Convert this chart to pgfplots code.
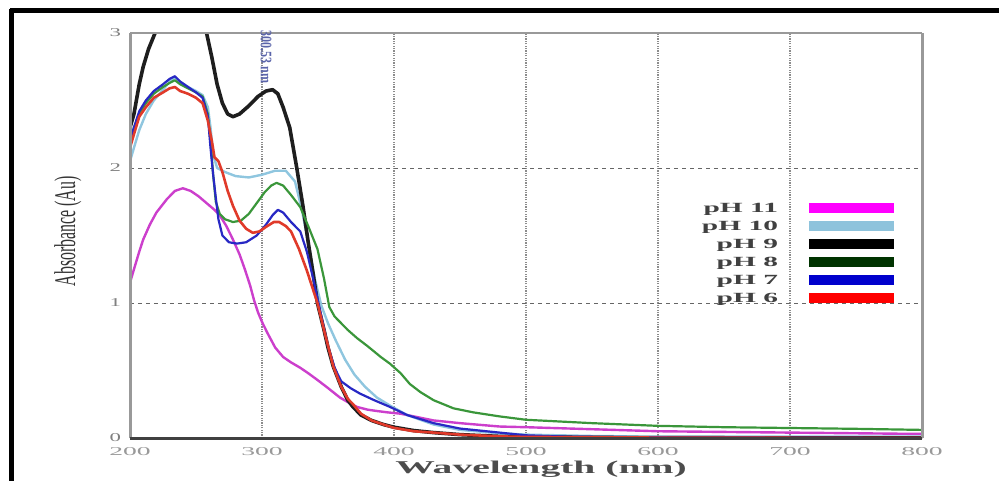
\documentclass[border=0pt]{standalone}
\usepackage{fontspec}
\setmainfont{Liberation Serif}
\usepackage{graphicx}
\usepackage{pgfplots}
\pgfplotsset{compat=1.18}

\definecolor{cMag}{HTML}{CC3FCC}
\definecolor{cLb}{HTML}{8FC6DF}
\definecolor{cBk}{HTML}{1E1E1E}
\definecolor{cGr}{HTML}{3A963A}
\definecolor{cBl}{HTML}{2828C4}
\definecolor{cRd}{HTML}{E03A2A}
\definecolor{lMag}{HTML}{FF00FF}
\definecolor{lLb}{HTML}{8EC3DC}
\definecolor{lBk}{HTML}{000000}
\definecolor{lGr}{HTML}{003300}
\definecolor{lBl}{HTML}{0000CC}
\definecolor{lRd}{HTML}{FF0000}
\definecolor{annot}{RGB}{90,100,170}

\pgfplotsset{
  lbar/.style={legend image code/.code={\draw[line width=5pt,#1] (0pt,0pt) -- (42.5pt,0pt);}},
}

\begin{document}
\begin{tikzpicture}
\begin{axis}[
  name=ax, at={(0,0)}, anchor=south west,
  scale only axis, width=396pt, height=202.5pt,
  xmin=200, xmax=800, ymin=0, ymax=3,
  xtick={200,300,...,800}, ytick={0,1,2,3},
  major tick length=0pt,
  axis line style={draw=none},
  /pgf/number format/assume math mode=true,
  xticklabel={\scalebox{2.3}[1]{\pgfmathprintnumber{\tick}}},
  yticklabel={\scalebox{1.9}[1]{\pgfmathprintnumber{\tick}}},
  xticklabel style={font=\fontsize{6}{7}\selectfont, text=black!40, inner sep=1pt, yshift=-3.5pt},
  yticklabel style={font=\fontsize{6}{7}\selectfont, text=black!50, xshift=-1pt},
  xmajorgrids, ymajorgrids,
  x grid style={black!45, line width=1.2pt, dash pattern=on 0.6pt off 0.6pt},
  y grid style={black!60, line width=0.5pt, dash pattern=on 2pt off 2pt},
  xlabel={\scalebox{2.2}[1]{Wavelength (nm)}},
  xlabel style={at={(axis description cs:0.519,-0.0765)}, anchor=center, inner sep=0pt,
    font=\fontsize{9}{10}\selectfont\bfseries, text=black!70},
  ylabel={\scalebox{0.53}[1]{Absorbance (Au)}},
  ylabel style={at={(axis description cs:-0.0783,0.51)}, anchor=center,
    font=\fontsize{15}{15}\selectfont, text=black!80},
  legend plot pos=right,
  legend cell align=right,
  legend style={draw=none, fill=none, at={(rel axis cs:0.979,0.598)}, anchor=north east,
    font=\fontsize{7}{8}\selectfont\bfseries, text=black!75,
    nodes={inner sep=0pt, text height=6pt, text depth=1.5pt},
    row sep=1.5pt, column sep=13pt},
  line join=round,
]
% pH 11
\addplot[cMag, line width=1.2pt, lbar=lMag] coordinates {
 (200,1.15) (203,1.25) (207,1.38) (210,1.47) (215,1.58) (220,1.67) (228,1.77)
 (234,1.83) (240,1.85) (246,1.83) (252,1.79) (258,1.74) (264,1.69) (268,1.65)
 (273,1.57) (278,1.47) (283,1.36) (287,1.25) (291,1.13) (294,1.02) (297,0.93)
 (300,0.86) (304,0.78) (310,0.67) (316,0.60) (322,0.56) (329,0.52) (335,0.48)
 (342,0.43) (350,0.37) (359,0.30) (366,0.26) (372,0.23) (380,0.21) (387,0.20)
 (395,0.19) (405,0.18) (420,0.15) (430,0.13) (450,0.11) (480,0.085) (500,0.08)
 (550,0.065) (600,0.05) (650,0.045) (700,0.04) (750,0.035) (800,0.03)
};
\addlegendentry{\scalebox{2.1}[1]{pH 11}}
% pH 10
\addplot[cLb, line width=1.2pt, lbar=lLb] coordinates {
 (200,2.05) (203,2.15) (207,2.28) (212,2.40) (218,2.50) (225,2.58) (230,2.64)
 (234,2.67) (238,2.64) (244,2.60) (250,2.57) (255,2.54) (259,2.45) (261,2.30)
 (263,2.10) (266,2.00) (272,1.97) (280,1.94) (290,1.93) (300,1.95) (310,1.98)
 (318,1.98) (325,1.90) (330,1.70) (335,1.45) (340,1.18) (345,0.98) (350,0.85)
 (356,0.72) (363,0.58) (370,0.47) (378,0.38) (387,0.30) (397,0.24) (410,0.17)
 (430,0.10) (450,0.06) (480,0.035) (500,0.025) (550,0.015) (600,0.01) (800,0.01)
};
\addlegendentry{\scalebox{2.1}[1]{pH 10}}
% pH 9
\addplot[cBk, line width=1.8pt, lbar=lBk] coordinates {
 (200,2.30) (203,2.40) (207,2.62) (210,2.75) (214,2.88) (219,3.00) (225,3.15)
 (232,3.25) (240,3.28) (248,3.22) (254,3.10) (258,3.00) (262,2.82) (266,2.62)
 (270,2.48) (274,2.40) (278,2.38) (283,2.40) (290,2.46) (297,2.53) (303,2.57)
 (308,2.58) (312,2.55) (316,2.45) (321,2.30) (326,2.02) (331,1.72) (335,1.45)
 (339,1.20) (342,1.00) (347,0.80) (350,0.67) (354,0.53) (360,0.38) (365,0.28)
 (369,0.23) (375,0.17) (383,0.13) (392,0.10) (400,0.08) (415,0.055) (430,0.04)
 (450,0.025) (480,0.012) (500,0.008) (550,0.004) (600,0.002) (800,0.0)
};
\addlegendentry{\scalebox{2.1}[1]{pH 9}}
% pH 8
\addplot[cGr, line width=1.1pt, lbar=lGr] coordinates {
 (200,2.20) (203,2.30) (207,2.40) (212,2.48) (218,2.55) (225,2.60) (230,2.63)
 (234,2.65) (238,2.62) (244,2.59) (250,2.56) (255,2.53) (259,2.40) (261,2.20)
 (263,1.95) (265,1.75) (268,1.66) (272,1.62) (278,1.60) (284,1.61) (290,1.66)
 (296,1.74) (302,1.82) (307,1.87) (311,1.89) (316,1.87) (322,1.80) (329,1.71)
 (335,1.57) (342,1.40) (347,1.18) (351,0.97) (355,0.90) (359,0.86) (365,0.80)
 (372,0.74) (380,0.68) (390,0.60) (397,0.55) (405,0.48) (412,0.40) (420,0.34)
 (430,0.28) (445,0.22) (460,0.19) (480,0.16) (500,0.135) (550,0.11) (600,0.09)
 (650,0.08) (700,0.074) (750,0.068) (800,0.06)
};
\addlegendentry{\scalebox{2.1}[1]{pH 8}}
% pH 7
\addplot[cBl, line width=1.1pt, lbar=lBl] coordinates {
 (200,2.20) (203,2.30) (207,2.42) (212,2.50) (218,2.57) (225,2.62) (230,2.66)
 (234,2.68) (238,2.64) (244,2.60) (250,2.56) (255,2.52) (259,2.38) (261,2.15)
 (263,1.95) (265,1.78) (267,1.62) (270,1.50) (275,1.45) (281,1.44) (288,1.45)
 (296,1.50) (303,1.58) (308,1.65) (312,1.69) (316,1.67) (322,1.60) (329,1.53)
 (334,1.38) (339,1.17) (345,0.90) (350,0.68) (355,0.52) (360,0.42) (367,0.37)
 (374,0.33) (385,0.28) (397,0.23) (410,0.17) (430,0.11) (450,0.07) (480,0.04)
 (500,0.02) (530,0.01) (600,0.005) (800,0.0)
};
\addlegendentry{\scalebox{2.1}[1]{pH 7}}
% pH 6
\addplot[cRd, line width=1.3pt, lbar=lRd] coordinates {
 (200,2.15) (203,2.25) (207,2.38) (212,2.45) (218,2.52) (225,2.56) (230,2.59)
 (234,2.60) (238,2.57) (244,2.55) (250,2.52) (255,2.48) (259,2.35) (262,2.20)
 (264,2.08) (267,2.05) (270,1.97) (274,1.83) (278,1.72) (283,1.61) (288,1.55)
 (293,1.52) (298,1.53) (304,1.57) (309,1.60) (313,1.60) (318,1.57) (322,1.53)
 (328,1.40) (334,1.24) (338,1.12) (342,1.00) (348,0.76) (354,0.53) (360,0.38)
 (365,0.29) (369,0.25) (375,0.18) (383,0.13) (392,0.10) (400,0.075) (415,0.05)
 (430,0.04) (450,0.025) (480,0.012) (500,0.008) (600,0.003) (800,0.0)
};
\addlegendentry{\scalebox{2.1}[1]{pH 6}}
\coordinate (ann) at (axis cs:303,2.82);
\end{axis}
% axis frame
\draw[black!40, line width=1.5pt] (0pt,0pt) -- (0pt,202.5pt);
\draw[black!40, line width=1.5pt] (396pt,0pt) -- (396pt,202.5pt);
\draw[black!40, line width=0.6pt] (0pt,202.5pt) -- (396pt,202.5pt);
\draw[black!75, line width=1.5pt] (0pt,0pt) -- (396pt,0pt);
\node[rotate=-90, font=\fontsize{8}{9}\selectfont\bfseries, text=annot, inner sep=0pt] at (ann) {\scalebox{0.75}[1]{300.53 nm}};
% outer frame
\draw[black, line width=2.5pt] (-60pt,213.5pt) -- (434.5pt,213.5pt);
\draw[black, line width=2.5pt] (-59pt,214.5pt) -- (-59pt,-21.5pt);
\pgfresetboundingbox
\path[use as bounding box] (-65pt,-21.5pt) rectangle (434.5pt,219pt);
\end{tikzpicture}
\end{document}
